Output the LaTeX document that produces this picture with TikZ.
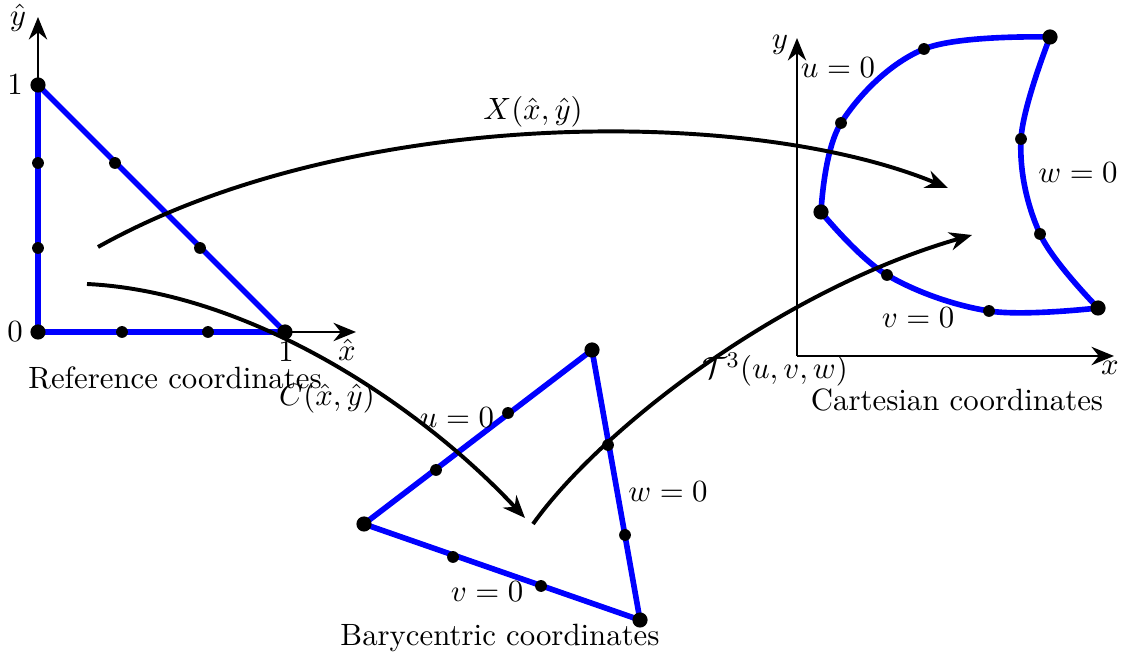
\documentclass[tikz,border=0pt,11pt]{standalone}
\usepackage{amsmath,amssymb}
\usepackage{tikz}
\usetikzlibrary{arrows.meta}

\begin{document}
\begin{tikzpicture}[x=0.0125cm, y=-0.0125cm,
  edge/.style={blue, line width=2pt},
  axis/.style={line width=1pt, -{Stealth[length=8pt, width=6.5pt]}},
  map/.style={line width=1.4pt, -{Stealth[length=8pt, width=6.5pt]}},
  vert/.style={circle, fill=black, inner sep=0pt, minimum size=5.4pt},
  pt/.style={circle, fill=black, inner sep=0pt, minimum size=4.2pt}]
  \useasboundingbox (0,0) rectangle (1132,658);

  % Reference triangle
  \coordinate (r0) at (38,332);
  \coordinate (r1) at (285,332);
  \coordinate (r2) at (38,85);
  \coordinate (ryend) at (38,17);
  \coordinate (rxend) at (356,332);
  \draw[axis] (r0) -- (ryend);
  \draw[axis] (r0) -- (rxend);
  \draw[edge] (r0) -- (r1) -- (r2) -- cycle;
  \node[vert] (ra) at (r0) {};
  \node[vert] (rb) at (r1) {};
  \node[vert] (rc) at (r2) {};
  \foreach \p [count=\i] in {(122,332),(208,332),(200,248),(115,163),(38,163),(38,248)}
    \node[pt] (rp\i) at \p {};
  \node (lyhat) at (18,18) {$\hat{y}$};
  \node (lone) at (15,85) {$1$};
  \node (lzero) at (15,332) {$0$};
  \node (lxhat) at (347,350) {$\hat{x}$};
  \node (bone) at (286,352) {$1$};
  \node (reflabel) at (175,378) {Reference coordinates};

  % Barycentric triangle
  \coordinate (b0) at (364,524);
  \coordinate (b1) at (592,350);
  \coordinate (b2) at (640,620);
  \draw[edge] (b0) -- (b1) -- (b2) -- cycle;
  \node[vert] (ba) at (b0) {};
  \node[vert] (bb) at (b1) {};
  \node[vert] (bc) at (b2) {};
  \foreach \p [count=\i] in {(436,470),(508,413),(608,445),(625,535),(541,586),(453,557)}
    \node[pt] (bp\i) at \p {};
  \node (bu) at (457,418) {$u=0$};
  \node (bw) at (668,492) {$w=0$};
  \node (bv) at (487,592) {$v=0$};
  \node (barylabel) at (500,638) {Barycentric coordinates};

  % Curved element in Cartesian coordinates
  \coordinate (c0) at (797,356);
  \coordinate (cyend) at (797,38);
  \coordinate (cxend) at (1114,356);
  \draw[axis] (c0) -- (cyend);
  \draw[axis] (c0) -- (cxend);
  \draw[edge] plot[smooth, tension=0.6] coordinates {(821,212) (841,123) (924,49) (1050,37)};
  \draw[edge] plot[smooth, tension=0.6] coordinates {(1050,37) (1021,139) (1040,234) (1098,308)};
  \draw[edge] plot[smooth, tension=0.6] coordinates {(821,212) (887,275) (989,311) (1098,308)};
  \node[vert] (ca) at (821,212) {};
  \node[vert] (cb) at (1050,37) {};
  \node[vert] (cc) at (1098,308) {};
  \foreach \p [count=\i] in {(841,123),(924,49),(1021,139),(1040,234),(887,275),(989,311)}
    \node[pt] (cp\i) at \p {};
  \node (ly) at (780,45) {$y$};
  \node (lx) at (1110,368) {$x$};
  \node (cu) at (838,68) {$u=0$};
  \node (cw) at (1078,173) {$w=0$};
  \node (cv) at (918,318) {$v=0$};
  \node (cartlabel) at (957,400) {Cartesian coordinates};

  % Mappings
  \coordinate (xs) at (98,247);
  \coordinate (xe) at (948,188);
  \coordinate (cs) at (87,284);
  \coordinate (ce) at (525,518);
  \coordinate (ts) at (533,524);
  \coordinate (te) at (972,235);
  \draw[map] (xs) .. controls (350,106) and (750,106) .. (xe);
  \draw[map] (cs) .. controls (250,292) and (420,405) .. (ce);
  \draw[map] (ts) .. controls (600,430) and (780,290) .. (te);
  \node (xmap) at (533,112) {$X(\hat{x},\hat{y})$};
  \node (cmap) at (327,398) {$C(\hat{x},\hat{y})$};
  \node (tmap) at (775,370) {$\mathcal{T}^3(u,v,w)$};
\end{tikzpicture}
\end{document}
